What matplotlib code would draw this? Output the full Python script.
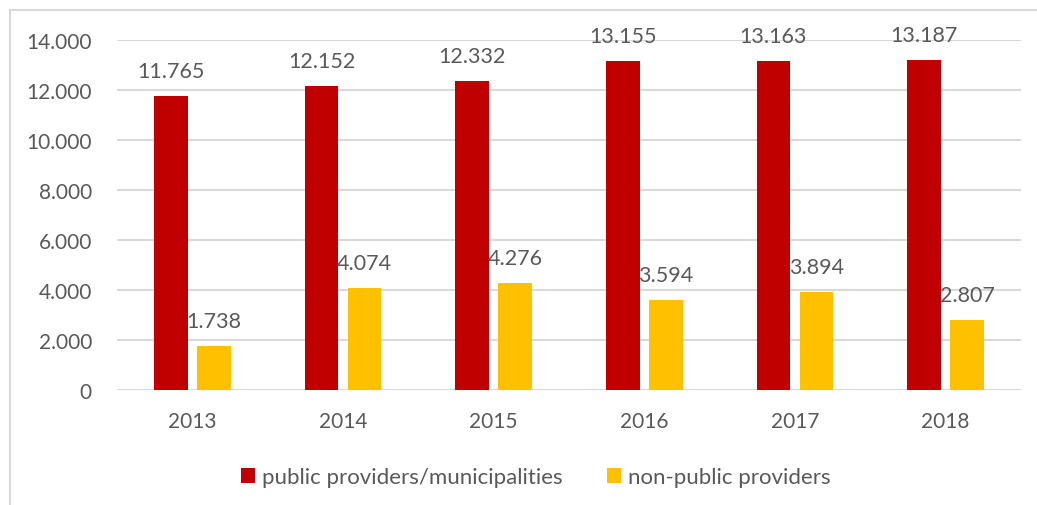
import matplotlib
matplotlib.use("Agg")
import matplotlib.pyplot as plt
import numpy as np
from matplotlib.patches import Patch
from matplotlib.ticker import FuncFormatter
from matplotlib.lines import Line2D

years = ["2013", "2014", "2015", "2016", "2017", "2018"]
public = [11765, 12152, 12332, 13155, 13163, 13187]
non_public = [1738, 4074, 4276, 3594, 3894, 2807]
series_names = ["public providers/municipalities", "non-public providers"]

RED = "#C00000"
YELLOW = "#FFC000"
TXT = "#595959"
GRID = "#D9D9D9"
FONT = "Lato"
FS = 15

plt.rcParams["font.family"] = [FONT, "DejaVu Sans"]

W, H = 1037, 506
fig = plt.figure(figsize=(W / 100, H / 100), dpi=100)
ax = fig.add_axes([117 / W, (H - 390.7) / H, (1021 - 117) / W, 350 / H])

x = np.arange(len(years))
bw = 0.225
off = 0.143
b1 = ax.bar(x - off, public, bw, color=RED, zorder=3)
b2 = ax.bar(x + off, non_public, bw, color=YELLOW, zorder=3)

def fmt(v, pos=None):
    return f"{int(v):,}".replace(",", ".")

for bars, vals in ((b1, public), (b2, non_public)):
    for r, v in zip(bars, vals):
        ax.annotate(fmt(v), (r.get_x() + r.get_width() / 2, v),
                    xytext=(0, 18), textcoords="offset points",
                    ha="center", va="center", fontsize=15.5, color=TXT, zorder=4)

ax.set_xlim(-0.5, len(years) - 0.5)
ax.set_ylim(0, 14000)
ax.set_yticks(np.arange(0, 14001, 2000))
ax.yaxis.set_major_formatter(FuncFormatter(fmt))
ax.set_xticks(x)
ax.set_xticklabels(years)
ax.grid(axis="y", color=GRID, linewidth=1.5, zorder=0)
ax.set_axisbelow(True)
for s in ax.spines.values():
    s.set_visible(False)
ax.tick_params(axis="both", length=0, labelsize=FS, labelcolor=TXT)
ax.tick_params(axis="y", pad=18)
ax.tick_params(axis="x", pad=15)

handles = [Patch(facecolor=RED, edgecolor="none"), Patch(facecolor=YELLOW, edgecolor="none")]
fig.legend(handles, series_names, loc="center", bbox_to_anchor=(536 / W, (H - 478) / H),
           ncol=2, frameon=False, fontsize=16, labelcolor=TXT,
           handlelength=0.64, handleheight=0.64, handletextpad=0.3, columnspacing=2.0)

# chart border (top and left visible)
fig.add_artist(Line2D([10 / W, 1.0], [(H - 11) / H, (H - 11) / H], color=GRID, linewidth=1.5,
                      transform=fig.transFigure))
fig.add_artist(Line2D([10 / W, 10 / W], [0, (H - 11) / H], color=GRID, linewidth=1.5,
                      transform=fig.transFigure))

fig.savefig("out.png", dpi=100)
